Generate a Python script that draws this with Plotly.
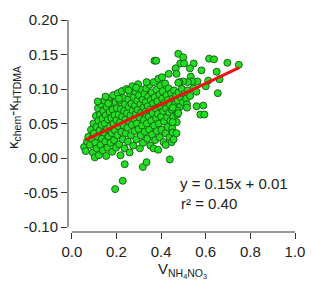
import plotly.graph_objects as go

# Scatter data: V_NH4NO3 (x) and kappa_chem - kappa_HTDMA (y)
pts = [
    (0.055, 0.016), (0.062, 0.010), (0.068, 0.024), (0.074, 0.031), (0.081, 0.019),
    (0.086, 0.041), (0.090, 0.028), (0.094, 0.008), (0.097, 0.050), (0.099, 0.036),
    (0.103, 0.001), (0.105, 0.022), (0.108, 0.061), (0.110, 0.045), (0.112, 0.014),
    (0.115, 0.031), (0.117, 0.072), (0.119, 0.054), (0.121, 0.004), (0.124, 0.040),
    (0.126, 0.063), (0.128, 0.019), (0.131, 0.078), (0.133, 0.048), (0.135, 0.028),
    (0.137, 0.057), (0.139, 0.011), (0.141, 0.068), (0.143, 0.037), (0.146, 0.083),
    (0.148, 0.050), (0.150, 0.024), (0.152, 0.062), (0.154, 0.003), (0.156, 0.074),
    (0.158, 0.042), (0.160, 0.015), (0.162, 0.056), (0.164, 0.031), (0.167, 0.086),
    (0.169, 0.067), (0.171, 0.046), (0.173, 0.022), (0.175, 0.079), (0.177, 0.058),
    (0.179, 0.036), (0.181, 0.009), (0.183, 0.070), (0.185, 0.091), (0.187, 0.050),
    (0.189, 0.026), (0.191, 0.062), (0.193, 0.040), (0.196, 0.081), (0.198, 0.015),
    (0.200, 0.055), (0.202, 0.072), (0.204, 0.033), (0.206, 0.094), (0.208, 0.046),
    (0.210, 0.063), (0.212, 0.020), (0.214, 0.083), (0.216, 0.052), (0.218, 0.004),
    (0.220, 0.071), (0.222, 0.038), (0.224, 0.097), (0.226, 0.060), (0.228, 0.027),
    (0.230, 0.087), (0.232, 0.047), (0.234, 0.068), (0.236, 0.014), (0.238, 0.078),
    (0.240, 0.056), (0.242, 0.036), (0.245, 0.100), (0.247, 0.065), (0.249, 0.044),
    (0.251, 0.024), (0.253, 0.085), (0.255, 0.074), (0.257, 0.053), (0.259, 0.008),
    (0.261, 0.093), (0.263, 0.062), (0.265, 0.033), (0.267, 0.079), (0.269, 0.048),
    (0.271, 0.104), (0.273, 0.069), (0.275, 0.018), (0.277, 0.088), (0.279, 0.057),
    (0.281, 0.039), (0.283, 0.076), (0.285, 0.096), (0.287, 0.064), (0.289, 0.027),
    (0.291, 0.050), (0.293, 0.083), (0.295, 0.070), (0.297, 0.107), (0.299, 0.042),
    (0.301, 0.091), (0.303, 0.059), (0.305, 0.014), (0.307, 0.078), (0.309, 0.033),
    (0.311, 0.066), (0.313, 0.099), (0.315, 0.047), (0.317, 0.085), (0.319, 0.022),
    (0.321, 0.073), (0.323, 0.055), (0.325, 0.093), (0.327, 0.038), (0.329, 0.067),
    (0.331, 0.081), (0.333, 0.101), (0.336, 0.050), (0.338, 0.028), (0.340, 0.075),
    (0.342, 0.089), (0.344, 0.060), (0.346, 0.041), (0.348, 0.106), (0.350, 0.070),
    (0.352, 0.018), (0.354, 0.084), (0.356, 0.054), (0.358, 0.095), (0.360, 0.034),
    (0.362, 0.065), (0.364, 0.079), (0.367, 0.110), (0.369, 0.047), (0.371, 0.088),
    (0.373, 0.026), (0.375, 0.072), (0.377, 0.058), (0.379, 0.099), (0.381, 0.039),
    (0.383, 0.082), (0.385, 0.064), (0.388, 0.115), (0.390, 0.050), (0.392, 0.092),
    (0.394, 0.030), (0.396, 0.075), (0.398, 0.105), (0.400, 0.060), (0.402, 0.041),
    (0.405, 0.086), (0.407, 0.097), (0.409, 0.068), (0.411, 0.023), (0.413, 0.053),
    (0.415, 0.080), (0.418, 0.108), (0.420, 0.036), (0.422, 0.072), (0.424, 0.091),
    (0.427, 0.059), (0.429, 0.045), (0.431, 0.084), (0.433, 0.101), (0.436, 0.066),
    (0.438, 0.030), (0.440, 0.077), (0.442, 0.054), (0.445, 0.094), (0.447, 0.070),
    (0.450, 0.043), (0.452, 0.086), (0.455, 0.060), (0.458, 0.098), (0.462, 0.078),
    (0.466, 0.090), (0.470, 0.052), (0.474, 0.083), (0.478, 0.095), (0.483, 0.074),
    (0.488, 0.088), (0.493, 0.100), (0.498, 0.081), (0.505, 0.093), (0.512, 0.086),
    (0.520, 0.098), (0.530, 0.090), (0.545, 0.101), (0.558, 0.096), (0.600, 0.104),
    # sparser points around the edges
    (0.194, -0.045), (0.228, -0.033), (0.237, -0.009), (0.318, -0.013), (0.335, -0.006),
    (0.335, 0.110), (0.366, 0.014), (0.370, 0.141), (0.378, 0.141), (0.387, 0.012),
    (0.404, 0.117), (0.421, 0.019), (0.439, -0.002), (0.434, 0.122), (0.447, 0.023),
    (0.452, 0.037), (0.452, 0.052), (0.456, 0.027), (0.469, 0.036), (0.473, 0.069),
    (0.473, 0.063), (0.452, 0.073), (0.477, 0.065), (0.516, 0.078), (0.516, 0.073),
    (0.559, 0.075), (0.589, 0.076), (0.576, 0.063), (0.594, 0.063), (0.654, 0.094),
    (0.662, 0.114), (0.649, 0.125), (0.581, 0.127), (0.697, 0.138), (0.748, 0.135),
    (0.615, 0.144), (0.637, 0.143), (0.477, 0.151), (0.499, 0.146), (0.486, 0.137),
    (0.503, 0.137), (0.546, 0.137), (0.529, 0.130), (0.465, 0.130), (0.469, 0.122),
    (0.533, 0.118), (0.563, 0.111), (0.538, 0.111), (0.520, 0.110), (0.499, 0.111),
    (0.482, 0.110), (0.611, 0.112), (0.288, 0.102), (0.254, 0.098), (0.211, 0.086),
    (0.163, 0.079), (0.151, 0.089), (0.116, 0.082), (0.477, 0.109),
]
x_vals = [p[0] for p in pts]
y_vals = [p[1] for p in pts]

# Fit line endpoints (y = 0.15x + 0.01)
fit_x = [0.06, 0.75]
fit_y = [0.026, 0.131]

x_ticks = [0.0, 0.2, 0.4, 0.6, 0.8, 1.0]
x_ticktext = ["0.0", "0.2", "0.4", "0.6", "0.8", "1.0"]
y_ticks = [-0.10, -0.05, 0.00, 0.05, 0.10, 0.15, 0.20]
y_ticktext = ["-0.10", "-0.05", "0.00", "0.05", "0.10", "0.15", "0.20"]

FONT = "Liberation Sans, Arial, sans-serif"

fig = go.Figure()
fig.add_trace(go.Scatter(
    x=x_vals, y=y_vals, mode="markers",
    marker=dict(size=7, color="#22dd22", line=dict(color="#176617", width=1)),
    showlegend=False, cliponaxis=False))
fig.add_trace(go.Scatter(
    x=fit_x, y=fit_y, mode="lines",
    line=dict(color="#ee1111", width=3), showlegend=False))

fig.update_layout(
    width=316, height=288,
    margin=dict(l=68, r=11, t=19, b=56),
    paper_bgcolor="white", plot_bgcolor="white",
    font=dict(family=FONT, size=15, color="#222"),
    xaxis=dict(range=[-0.0172, 1.0], tickvals=x_ticks, ticktext=x_ticktext,
               ticks="outside", ticklen=6, tickcolor="#333", tickwidth=1,
               showgrid=False, zeroline=False, showline=False),
    yaxis=dict(range=[-0.1072, 0.20], tickvals=y_ticks, ticktext=y_ticktext,
               ticks="outside", ticklen=6, tickcolor="#333", tickwidth=1,
               showgrid=False, zeroline=False, showline=False),
    shapes=[
        dict(type="line", xref="x", yref="paper", x0=0, x1=1.0, y0=0, y1=0,
             line=dict(color="#333", width=1)),
        dict(type="line", xref="paper", yref="y", x0=0, x1=0, y0=-0.10, y1=0.20,
             line=dict(color="#333", width=1)),
    ],
    annotations=[
        dict(text="y = 0.15x + 0.01", xref="paper", yref="paper",
             x=(183 - 68) / 237, y=(288 - 56 - 183) / 213, xanchor="left", yanchor="middle",
             showarrow=False, font=dict(size=15)),
        dict(text="r² = 0.40", xref="paper", yref="paper",
             x=(184 - 68) / 237, y=(288 - 56 - 203) / 213, xanchor="left", yanchor="middle",
             showarrow=False, font=dict(size=15)),
        dict(text="κ<sub>chem</sub>-κ<sub>HTDMA</sub>", xref="paper", yref="paper",
             x=(11 - 68) / 237, y=(288 - 56 - 107) / 213, xanchor="center", yanchor="middle",
             textangle=-90, showarrow=False, font=dict(size=15)),
        dict(text="V<sub>NH<sub>4</sub>NO<sub>3</sub></sub>", xref="paper", yref="paper",
             x=(188 - 68) / 237, y=(288 - 56 - 271) / 213, xanchor="center", yanchor="middle",
             showarrow=False, font=dict(size=15)),
    ],
)

fig.write_html("out.html")
